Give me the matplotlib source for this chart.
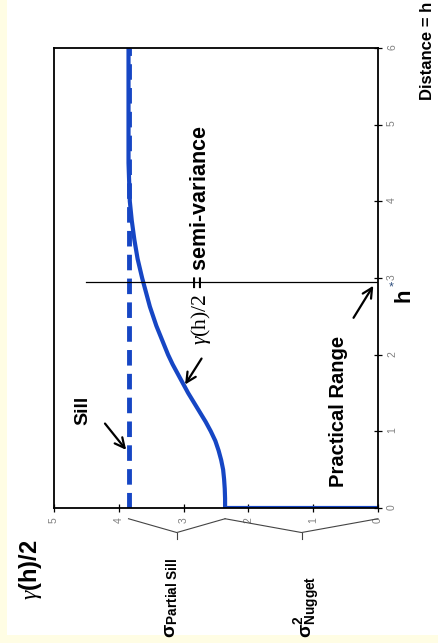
import matplotlib
matplotlib.use('Agg')
import matplotlib.pyplot as plt
from matplotlib.patches import Rectangle

plt.rcParams['font.family'] = ['Liberation Sans', 'DejaVu Sans']
plt.rcParams['mathtext.fontset'] = 'custom'
plt.rcParams['mathtext.rm'] = 'Liberation Serif'
plt.rcParams['mathtext.it'] = 'Liberation Serif:italic'
plt.rcParams['mathtext.bf'] = 'Liberation Sans:bold'

# ---- data (distance h vs semi-variance) ----
distance = [0, 0, 0.125, 0.25, 0.375, 0.5, 0.625, 0.75, 0.875, 1.0, 1.125, 1.25,
            1.375, 1.5, 1.625, 1.75, 1.875, 2.0, 2.125, 2.25, 2.375, 2.5, 2.625,
            2.75, 2.875, 3.0, 3.25, 3.5, 3.75, 4.0, 4.5, 5.0, 5.5, 6.0]
semivar = [0, 2.36, 2.36, 2.365, 2.375, 2.39, 2.42, 2.46, 2.51, 2.58, 2.66, 2.75,
           2.84, 2.93, 3.01, 3.09, 3.17, 3.24, 3.30, 3.36, 3.42, 3.47, 3.52,
           3.56, 3.60, 3.64, 3.71, 3.76, 3.80, 3.83, 3.85, 3.85, 3.85, 3.85]
sill = 3.85
nugget = 2.36
practical_range = 2.95
dist_ticks = [0, 1, 2, 3, 4, 5, 6]
semivar_ticks = [0, 1, 2, 3, 4, 5]

blue = '#1646c4'
W, H = 439, 643

fig = plt.figure(figsize=(W / 100, H / 100), dpi=100, facecolor='#FFFDE4')
fig.patches.append(Rectangle((7 / W, 8 / H), 1, 1, transform=fig.transFigure,
                             facecolor='white', edgecolor='none', zorder=-5))
ax = fig.add_axes([54 / W, 1 - 508 / H, 324 / W, 460 / H])
ax.set_zorder(2)
ax.set_xlim(5, 0)
ax.set_ylim(0, 6)

# sill dashed line
ax.plot([sill, sill], [0, 6], color=blue, lw=3.5, dashes=(3.2, 1.7))
# semivariogram curve
ax.plot(semivar, distance, color=blue, lw=3, solid_capstyle='butt',
        solid_joinstyle='round')
# practical range line
ax.plot([0, 4.5], [practical_range, practical_range], color='black', lw=0.9)

ax.set_xticks(semivar_ticks)
ax.set_yticks(dist_ticks)
ax.yaxis.tick_right()
ax.tick_params(axis='both', direction='inout', length=6, width=0.9,
               labelsize=7.5, labelcolor='#808080', labelrotation=90)
for s in ax.spines.values():
    s.set_linewidth(1.3)

# braces under the semi-variance axis
brace_kw = dict(color='#444444', lw=0.8, clip_on=False)
ax.plot([sill, (sill + nugget) / 2, nugget], [-0.14, -0.32, -0.14], **brace_kw)
ax.plot([(sill + nugget) / 2] * 2, [-0.32, -0.40], **brace_kw)
ax.plot([nugget, nugget / 2, 0], [-0.14, -0.32, -0.14], **brace_kw)
ax.plot([nugget / 2] * 2, [-0.32, -0.40], **brace_kw)

arrow_kw = dict(arrowstyle='->,head_length=0.7,head_width=0.35', color='black', lw=1.6)

# Sill label + arrow
ax.text(4.55, 1.27, 'Sill', rotation=90, ha='center', va='center',
        fontsize=14, fontweight='bold')
ax.annotate('', xy=(3.86, 0.73), xytext=(4.24, 1.13), arrowprops=arrow_kw)

# semi-variance label + arrow
ax.text(2.74, 2.12, r'$\gamma\mathrm{(h)/2}$ = semi-variance', rotation=90,
        ha='center', va='bottom', fontsize=15.5, fontweight='bold')
ax.annotate('', xy=(3.0, 1.58), xytext=(2.70, 1.98), arrowprops=arrow_kw)

# Practical range label + arrow
ax.text(0.61, 0.27, 'Practical Range', rotation=90, ha='center', va='bottom',
        fontsize=14.5, fontweight='bold')
ax.annotate('', xy=(0.05, 2.93), xytext=(0.40, 2.45), arrowprops=arrow_kw)

# h marker and label
ax.text(-0.2, practical_range - 0.07, '*', color='#2f4f7f', fontsize=9,
        ha='center', va='center', clip_on=False)
ax.text(-0.40, 2.78, 'h', rotation=90, ha='center', va='center',
        fontsize=16, fontweight='bold', clip_on=False)

# figure-level labels
fig.text(428 / W, 1 - 100 / H, 'Distance = h', rotation=90, ha='center', va='bottom',
         fontsize=12, fontweight='bold')
fig.text(31 / W, 1 - 600 / H, r'$\gamma$(h)/2', rotation=90, ha='center', va='bottom',
         fontsize=17, fontweight='bold')
fig.text(172 / W, 1 - 638 / H, r'$\mathbf{\sigma}_{\mathbf{Partial\ Sill}}$', rotation=90,
         ha='center', va='bottom', fontsize=14)
fig.text(307 / W, 1 - 638 / H, r'$\mathbf{\sigma}^{\mathbf{2}}_{\mathbf{Nugget}}$', rotation=90,
         ha='center', va='bottom', fontsize=14)

fig.savefig('out.png', dpi=100, facecolor=fig.get_facecolor())
